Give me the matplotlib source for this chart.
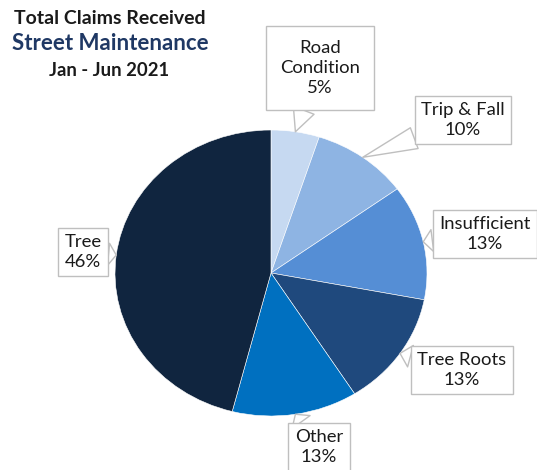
import matplotlib.pyplot as plt
import numpy as np

categories = ['Road\nCondition', 'Trip & Fall', 'Insufficient', 'Tree Roots', 'Other', 'Tree']
values = [5, 10, 13, 13, 13, 46]
colors = ['#c6d9f1', '#8eb4e3', '#558ed5', '#1f497d', '#0070c0', '#10253f']

# label box centres in image pixels (x from left, y from top)
label_pos = [(320, 68), (463, 120), (485, 234), (462, 370), (319, 447), (83, 252)]
box_pad = [0.75, 0.35, 0.35, 0.35, 0.35, 0.35]

W, H = 537, 470
cx, cy, rx, ry = 271, 273, 156, 143  # pie centre / radii in pixels

plt.rcParams['font.family'] = ['Lato', 'DejaVu Sans']
fig = plt.figure(figsize=(W / 100, H / 100), dpi=100)
ax = fig.add_axes([0, 0, 1, 1])

wedges, _ = ax.pie(values, colors=colors, startangle=90, counterclock=False,
                   wedgeprops=dict(edgecolor='white', linewidth=0.4))
ax.set_aspect('auto')
ax.set_xlim(-cx / rx, (W - cx) / rx)
ax.set_ylim(-(H - cy) / ry, cy / ry)
ax.axis('off')

total = sum(values)
for w, name, v, (px, py), pad in zip(wedges, categories, values, label_pos, box_pad):
    mid = np.deg2rad((w.theta1 + w.theta2) / 2)
    tip = (np.cos(mid), np.sin(mid))
    ax.annotate(f'{name}\n{v / total:.0%}', xy=tip,
                xytext=(px / W, 1 - py / H), textcoords='figure fraction',
                ha='center', va='center', fontsize=13.3, color='#1a1a1a',
                linespacing=1.3,
                bbox=dict(boxstyle=f'square,pad={pad}', fc='white', ec='#bfbfbf', lw=1),
                arrowprops=dict(arrowstyle='wedge,tail_width=1.2', fc='white',
                                ec='#bfbfbf', lw=1, shrinkA=0, shrinkB=0))

fig.text(110 / W, 1 - 18 / H, 'Total Claims Received', ha='center', va='center',
         fontsize=14, fontweight='bold', color='#1a1a1a')
fig.text(110 / W, 1 - 44 / H, 'Street Maintenance', ha='center', va='center',
         fontsize=16, fontweight='bold', color='#1f3864')
fig.text(109 / W, 1 - 70 / H, 'Jan - Jun 2021', ha='center', va='center',
         fontsize=13.3, fontweight='bold', color='#1a1a1a')

fig.savefig('out.png', dpi=100)
